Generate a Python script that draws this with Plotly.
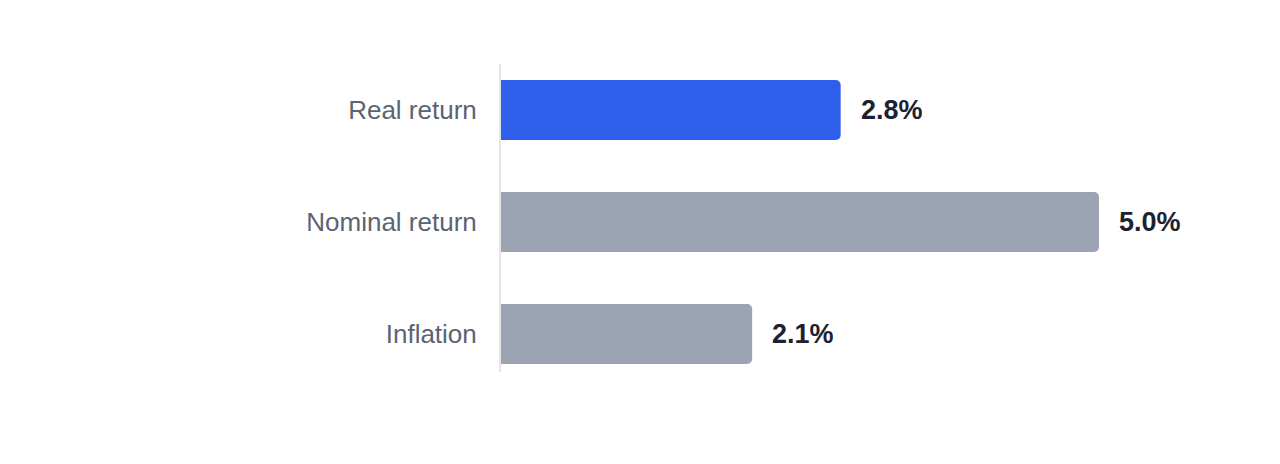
import plotly.graph_objects as go

categories = ["Real return", "Nominal return", "Inflation"]
values = [2.84, 5.0, 2.1]
value_labels = ["2.8%", "5.0%", "2.1%"]
colors = ["#2F5EEA", "#9CA4B4", "#9CA4B4"]

fig = go.Figure(
    go.Bar(
        x=values,
        y=categories,
        orientation="h",
        marker=dict(color=colors, line=dict(width=0)),
        width=0.536,
        hoverinfo="skip",
    )
)

for c, v, t in zip(categories, values, value_labels):
    fig.add_annotation(
        x=v, y=c, text=t, showarrow=False, xanchor="left", yanchor="middle",
        xshift=18,
        font=dict(family="Liberation Sans, Arial, sans-serif", size=27, color="#1E2230", weight="bold"),
    )

fig.update_layout(
    width=1280, height=464,
    margin=dict(l=501, r=60, t=64, b=92),
    paper_bgcolor="white", plot_bgcolor="white",
    barcornerradius=5,
    showlegend=False,
    xaxis=dict(range=[0, 719 / 119.6], visible=False, fixedrange=True),
    yaxis=dict(
        type="category",
        categoryorder="array", categoryarray=categories,
        range=[2.339, -0.411],
        showline=True, linecolor="#E2E4E8", linewidth=2,
        showgrid=False, zeroline=False, ticks="",
        ticklabelstandoff=17,
        tickfont=dict(family="Liberation Sans, Arial, sans-serif", size=26, color="#5B6473"),
    ),
)

fig.write_html("out.html")
